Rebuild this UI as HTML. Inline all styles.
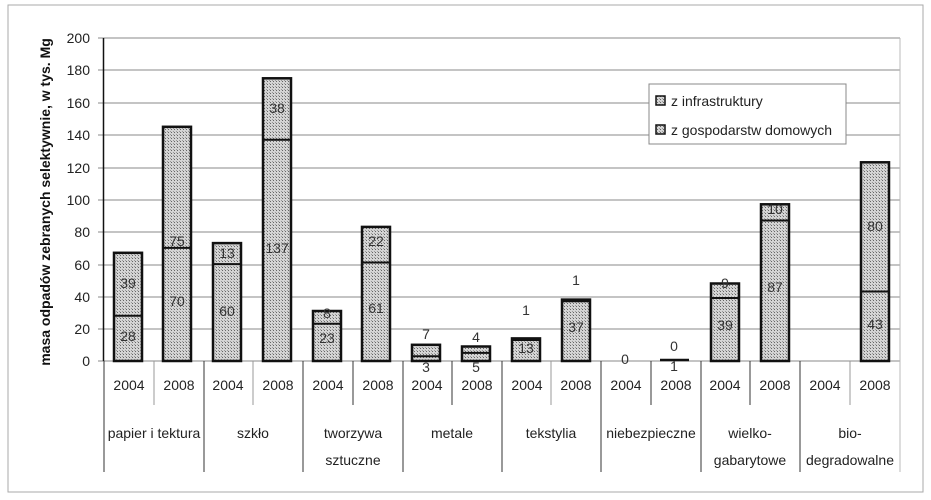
<!DOCTYPE html>
<html><head><meta charset="utf-8"><style>body{margin:0;background:#fff}svg{display:block}</style></head><body>
<svg width="931" height="500" xmlns="http://www.w3.org/2000/svg" font-family="Liberation Sans, sans-serif">
<defs><pattern id="p" width="3" height="3" patternUnits="userSpaceOnUse"><rect width="3" height="3" fill="#d4d4d4"/><rect width="1" height="1" fill="#666"/><rect x="2" y="2" width="1" height="1" fill="#999"/></pattern></defs>
<rect x="8" y="5" width="915" height="487" fill="none" stroke="#aaa" stroke-width="1"/>
<g stroke="#888" stroke-width="1">
<line x1="98" y1="38" x2="900" y2="38"/><line x1="98" y1="70" x2="900" y2="70"/><line x1="98" y1="103" x2="900" y2="103"/><line x1="98" y1="135" x2="900" y2="135"/><line x1="98" y1="168" x2="900" y2="168"/><line x1="98" y1="200" x2="900" y2="200"/><line x1="98" y1="232" x2="900" y2="232"/><line x1="98" y1="265" x2="900" y2="265"/><line x1="98" y1="297" x2="900" y2="297"/><line x1="98" y1="329" x2="900" y2="329"/><line x1="98" y1="361" x2="900" y2="361"/>
<line x1="900" y1="38" x2="900" y2="472" stroke="#bbb"/>
</g>
<line x1="103.5" y1="38" x2="103.5" y2="361" stroke="#111" stroke-width="1.5"/>
<g stroke="#333" stroke-width="1">
<line x1="104" y1="361" x2="104" y2="472"/><line x1="204" y1="361" x2="204" y2="472"/><line x1="303" y1="361" x2="303" y2="472"/><line x1="403" y1="361" x2="403" y2="472"/><line x1="502" y1="361" x2="502" y2="472"/><line x1="601" y1="361" x2="601" y2="472"/><line x1="701" y1="361" x2="701" y2="472"/><line x1="800" y1="361" x2="800" y2="472"/>
<line x1="154" y1="361" x2="154" y2="405" stroke="#999"/><line x1="253" y1="361" x2="253" y2="405" stroke="#999"/><line x1="353" y1="361" x2="353" y2="405"/><line x1="452" y1="361" x2="452" y2="405"/><line x1="551" y1="361" x2="551" y2="405" stroke="#999"/><line x1="651" y1="361" x2="651" y2="405"/><line x1="750" y1="361" x2="750" y2="405"/><line x1="850" y1="361" x2="850" y2="405" stroke="#999"/>
</g>
<g font-size="14" fill="#222" text-anchor="end">
<text x="90" y="43">200</text><text x="90" y="75">180</text><text x="90" y="108">160</text><text x="90" y="140">140</text><text x="90" y="173">120</text><text x="90" y="205">100</text><text x="90" y="237">80</text><text x="90" y="270">60</text><text x="90" y="302">40</text><text x="90" y="334">20</text><text x="90" y="366">0</text>
</g>
<text transform="translate(50,202) rotate(-90)" font-size="14" font-weight="bold" text-anchor="middle" fill="#111">masa odpadów zebranych selektywnie, w tys. Mg</text>
<g stroke="#111" stroke-width="2.5" fill="url(#p)">
<rect x="114" y="252.8" width="28" height="108.2"/><rect x="163" y="126.8" width="28" height="234.2"/>
<rect x="213" y="243.1" width="28" height="117.9"/><rect x="263" y="78.3" width="28" height="282.7"/>
<rect x="313" y="311" width="28" height="50"/><rect x="362" y="226.9" width="28" height="134.1"/>
<rect x="412" y="344.8" width="28" height="16.2"/><rect x="462" y="346.5" width="28" height="14.5"/>
<rect x="512" y="338.4" width="28" height="22.6"/><rect x="562" y="299.6" width="28" height="61.4"/>
<rect x="711" y="283.5" width="28" height="77.5"/><rect x="761" y="204.3" width="28" height="156.7"/>
<rect x="861" y="162.3" width="28" height="198.7"/>
</g>
<line x1="660" y1="360" x2="689" y2="360" stroke="#111" stroke-width="2.5"/>
<g stroke="#111" stroke-width="2">
<line x1="114" y1="315.8" x2="142" y2="315.8"/><line x1="163" y1="247.9" x2="191" y2="247.9"/>
<line x1="213" y1="264.1" x2="241" y2="264.1"/><line x1="263" y1="139.7" x2="291" y2="139.7"/>
<line x1="313" y1="323.8" x2="341" y2="323.8"/><line x1="362" y1="262.5" x2="390" y2="262.5"/>
<line x1="412" y1="356.2" x2="440" y2="356.2"/><line x1="462" y1="352.9" x2="490" y2="352.9"/>
<line x1="512" y1="340" x2="540" y2="340"/><line x1="562" y1="301.2" x2="590" y2="301.2"/>
<line x1="711" y1="298" x2="739" y2="298"/><line x1="761" y1="220.5" x2="789" y2="220.5"/>
<line x1="861" y1="291.5" x2="889" y2="291.5"/>
</g>
<g font-size="14" fill="#333" text-anchor="middle" dominant-baseline="central">
<text x="128" y="336">28</text><text x="128" y="283">39</text><text x="177" y="301">70</text><text x="177" y="241">75</text>
<text x="227" y="311">60</text><text x="227" y="253">13</text><text x="277" y="248">137</text><text x="277" y="108">38</text>
<text x="327" y="338">23</text><text x="327" y="313">8</text><text x="376" y="308">61</text><text x="376" y="241">22</text>
<text x="426" y="334">7</text><text x="426" y="367">3</text><text x="476" y="337">4</text><text x="476" y="367">5</text>
<text x="526" y="348">13</text><text x="526" y="310">1</text><text x="576" y="327">37</text><text x="576" y="280">1</text>
<text x="625" y="359">0</text><text x="674" y="346">0</text><text x="674" y="366">1</text>
<text x="725" y="325">39</text><text x="725" y="283">9</text><text x="775" y="287">87</text><text x="775" y="209">10</text>
<text x="875" y="324">43</text><text x="875" y="226">80</text>
</g>
<g font-size="14" fill="#222" text-anchor="middle">
<text x="129" y="390">2004</text><text x="179" y="390">2008</text><text x="228" y="390">2004</text><text x="278" y="390">2008</text><text x="328" y="390">2004</text><text x="378" y="390">2008</text><text x="427" y="390">2004</text><text x="477" y="390">2008</text><text x="527" y="390">2004</text><text x="576" y="390">2008</text><text x="626" y="390">2004</text><text x="676" y="390">2008</text><text x="725" y="390">2004</text><text x="775" y="390">2008</text><text x="825" y="390">2004</text><text x="875" y="390">2008</text>
<text x="154" y="438">papier i tektura</text><text x="253" y="438">szkło</text><text x="353" y="438">tworzywa</text><text x="353" y="465">sztuczne</text><text x="452" y="438">metale</text><text x="551" y="438">tekstylia</text><text x="651" y="438">niebezpieczne</text><text x="750" y="438">wielko-</text><text x="750" y="465">gabarytowe</text><text x="850" y="438">bio-</text><text x="850" y="465">degradowalne</text>
</g>
<rect x="649" y="84" width="197" height="60" fill="#fff" stroke="#888"/>
<rect x="656" y="96" width="9" height="9" fill="url(#p)" stroke="#111" stroke-width="1.5"/>
<rect x="656" y="125" width="9" height="9" fill="url(#p)" stroke="#111" stroke-width="1.5"/>
<g font-size="14" fill="#222"><text x="671" y="106">z infrastruktury</text><text x="671" y="135">z gospodarstw domowych</text></g>
</svg>
</body></html>
